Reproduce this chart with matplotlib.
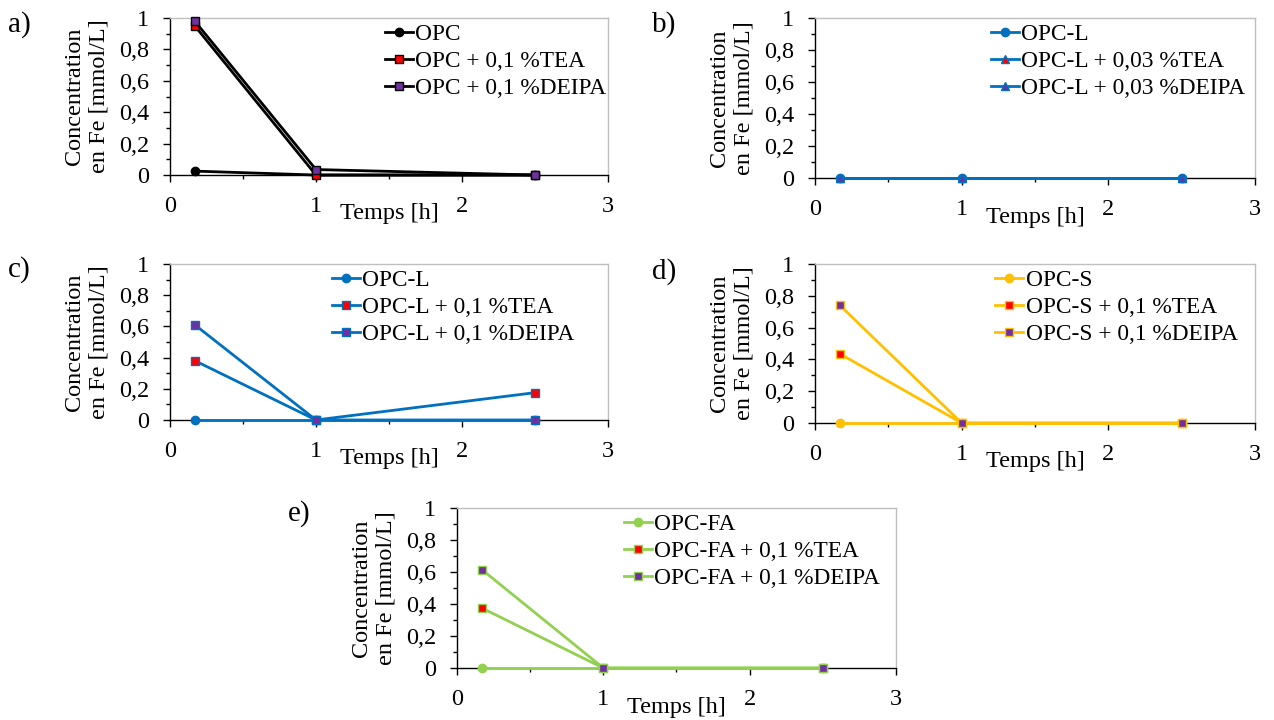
import matplotlib
matplotlib.use('Agg')
import matplotlib.pyplot as plt
from matplotlib.ticker import MultipleLocator, FuncFormatter

# ── DATA ─────────────────────────────────────────────
temps = [0.17, 1.0, 2.5]

a_labels = ["OPC", "OPC + 0,1 %TEA", "OPC + 0,1 %DEIPA"]
a_values = [[0.025, 0.0, 0.0], [0.95, 0.0, 0.0], [0.98, 0.035, 0.0]]

b_labels = ["OPC-L", "OPC-L + 0,03 %TEA", "OPC-L + 0,03 %DEIPA"]
b_values = [[0.0, 0.0, 0.0], [0.0, 0.0, 0.0], [0.0, 0.0, 0.0]]

c_labels = ["OPC-L", "OPC-L + 0,1 %TEA", "OPC-L + 0,1 %DEIPA"]
c_values = [[0.0, 0.0, 0.0], [0.38, 0.0, 0.175], [0.61, 0.0, 0.0]]

d_labels = ["OPC-S", "OPC-S + 0,1 %TEA", "OPC-S + 0,1 %DEIPA"]
d_values = [[0.0, 0.0, 0.0], [0.435, 0.0, 0.0], [0.74, 0.0, 0.0]]

e_labels = ["OPC-FA", "OPC-FA + 0,1 %TEA", "OPC-FA + 0,1 %DEIPA"]
e_values = [[0.0, 0.0, 0.0], [0.375, 0.0, 0.0], [0.615, 0.0, 0.0]]

# ── STYLE ────────────────────────────────────────────
plt.rcParams['font.family'] = ['Liberation Serif', 'DejaVu Serif']
FS = 17.5
FS_LEG = 16.8
RED = "#FF0000"
PURPLE = "#7030A0"

panels = [
    # tag, labels, values, line colour, markers, axes rect, legend x, tag position
    ("a)", a_labels, a_values, "#000000", ['o', 's', 's'],
     [0.1334, 0.7569, 0.3438, 0.2181], 0.49, (0.006, 0.985)),
    ("b)", b_labels, b_values, "#0070C0", ['o', '^', '^'],
     [0.6397, 0.7528, 0.3454, 0.2222], 0.40, (0.512, 0.985)),
    ("c)", c_labels, c_values, "#0070C0", ['o', 's', 's'],
     [0.1334, 0.4167, 0.3438, 0.2167], 0.37, (0.006, 0.645)),
    ("d)", d_labels, d_values, "#FFC000", ['o', 's', 's'],
     [0.6397, 0.4125, 0.3454, 0.2208], 0.41, (0.512, 0.642)),
    ("e)", e_labels, e_values, "#92D050", ['o', 's', 's'],
     [0.3587, 0.0722, 0.3446, 0.2222], 0.38, (0.226, 0.305)),
]

fig = plt.figure(figsize=(12.74, 7.2), dpi=100, facecolor='white')

comma = FuncFormatter(lambda v, p: f"{v:g}".replace('.', ','))

for tag, labels, values, col, marks, rect, leg_x, tag_pos in panels:
    ax = fig.add_axes(rect)
    fills = [col, RED, PURPLE]
    for lab, vals, m, fc in zip(labels, values, marks, fills):
        ax.plot(temps, vals, color=col, lw=2, marker=m, markersize=6,
                markerfacecolor=fc, markeredgecolor=col, markeredgewidth=1,
                label=lab, clip_on=False, zorder=3)

    ax.set_xlim(0, 3)
    ax.set_ylim(0, 1)
    ax.xaxis.set_major_locator(MultipleLocator(1))
    ax.xaxis.set_minor_locator(MultipleLocator(0.5))
    ax.yaxis.set_major_locator(MultipleLocator(0.2))
    ax.yaxis.set_minor_locator(MultipleLocator(0.1))
    ax.yaxis.set_major_formatter(comma)
    ax.tick_params(which='major', direction='out', length=5, width=1,
                   labelsize=FS, pad=10)
    ax.tick_params(which='minor', direction='out', length=3, width=1)

    for s in ['top', 'right']:
        ax.spines[s].set_color('#BFBFBF')
        ax.spines[s].set_linewidth(1)
    for s in ['left', 'bottom']:
        ax.spines[s].set_color('#000000')
        ax.spines[s].set_linewidth(1)

    ax.set_ylabel("Concentration\nen Fe [mmol/L]", fontsize=FS, labelpad=7,
                  linespacing=1.2)
    ax.set_xlabel("Temps [h]", fontsize=FS, va='center')
    ax.xaxis.set_label_coords(0.5, -0.245)

    ax.legend(loc='upper left', bbox_to_anchor=(leg_x, 0.965), frameon=False,
              fontsize=FS_LEG, handlelength=1.2, handletextpad=0.1,
              labelspacing=0.25, borderpad=0, borderaxespad=0)

    fig.text(tag_pos[0], tag_pos[1], tag, fontsize=21, va='top', ha='left')

plt.savefig("out.png", dpi=100, facecolor='white')
plt.close()
